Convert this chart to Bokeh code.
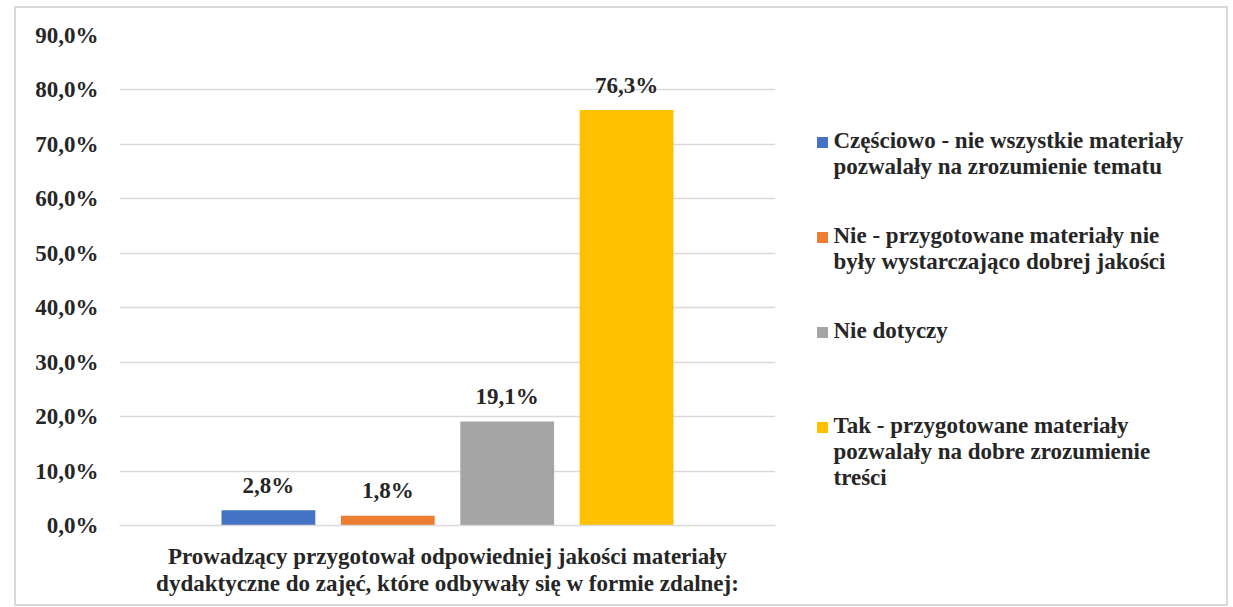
from bokeh.plotting import figure
from bokeh.models import FactorRange, Range1d, FixedTicker, ColumnDataSource, Row
from bokeh.transform import dodge
from bokeh.core.properties import value
from bokeh.embed import file_html
from bokeh.resources import INLINE

# ---- data ----
category = ["Prowadzący przygotował odpowiedniej jakości materiały\ndydaktyczne do zajęć, które odbywały się w formie zdalnej:"]
series = [
    "Częściowo - nie wszystkie materiały\npozwalały na zrozumienie tematu",
    "Nie - przygotowane materiały nie\nbyły wystarczająco dobrej jakości",
    "Nie dotyczy",
    "Tak - przygotowane materiały\npozwalały na dobre zrozumienie\ntreści",
]
values = [2.8, 1.8, 19.1, 76.3]
colors = ["#4472C4", "#ED7D31", "#A5A5A5", "#FFC000"]
tick_values = [0, 10, 20, 30, 40, 50, 60, 70, 80, 90]
tick_labels = ["0,0%", "10,0%", "20,0%", "30,0%", "40,0%", "50,0%", "60,0%", "70,0%", "80,0%", "90,0%"]
value_labels = [("%.1f%%" % v).replace(".", ",") for v in values]

FONT = "Liberation Serif"
FS = "23px"
TXT = "#262626"
GRID = "#D9D9D9"
H = 596
BT, BB = 27, 79
FRAME_H = H - BT - BB

# ---- main chart ----
p = figure(width=790, height=H, x_range=FactorRange(factors=category, range_padding=0),
           y_range=Range1d(0, 90), output_backend="svg", toolbar_location=None,
           min_border_left=103, min_border_right=31, min_border_top=BT, min_border_bottom=BB)
p.outline_line_color = None
p.xgrid.grid_line_color = None
p.ygrid.grid_line_color = GRID
p.ygrid.grid_line_width = 1.5

step = 0.182
bar_w = 0.143
for i, (s, v, c, lab) in enumerate(zip(series, values, colors, value_labels)):
    src = ColumnDataSource(dict(x=category, top=[v], label=[lab]))
    off = (i - (len(series) - 1) / 2) * step
    p.vbar(x=dodge("x", off, range=p.x_range), top="top", bottom=0, width=bar_w,
           source=src, fill_color=c, line_color=None)
    p.text(x=dodge("x", off, range=p.x_range), y="top", text="label", source=src,
           text_align="center", text_baseline="alphabetic", y_offset=-25,
           text_font=value(FONT), text_font_style="bold", text_font_size=FS,
           text_color=TXT)

p.yaxis.ticker = FixedTicker(ticks=tick_values)
p.yaxis.major_label_overrides = dict(zip(tick_values, tick_labels))
p.yaxis.axis_line_color = None
p.yaxis.major_tick_line_color = None
p.yaxis.minor_tick_line_color = None
p.yaxis.major_label_standoff = 15
p.yaxis.major_label_text_font = FONT
p.yaxis.major_label_text_font_style = "bold"
p.yaxis.major_label_text_font_size = FS
p.yaxis.major_label_text_color = TXT

p.xaxis.axis_line_color = GRID
p.xaxis.axis_line_width = 1.5
p.xaxis.major_tick_line_color = None
p.xaxis.minor_tick_line_color = None
p.xaxis.major_label_standoff = 12
p.xaxis.major_label_text_font = FONT
p.xaxis.major_label_text_font_style = "bold"
p.xaxis.major_label_text_font_size = FS
p.xaxis.major_label_text_color = TXT
p.xaxis.major_label_text_line_height = 1.1

# ---- legend panel (its frame is aligned with the chart frame by the Row) ----
n = len(series)
idx = list(range(n))
first = 107.0   # px from frame top to first entry
gap = 95.0      # px between entries
lg = figure(width=420, height=H, x_range=Range1d(0, 420),
            y_range=Range1d((FRAME_H - first) / gap, -first / gap),
            output_backend="svg", toolbar_location=None,
            min_border_left=0, min_border_right=0, min_border_top=BT, min_border_bottom=BB)
lg.axis.visible = False
lg.grid.visible = False
lg.outline_line_color = None
lsrc = ColumnDataSource(dict(y=idx, label=series, color=colors))
lg.rect(x=16, y="y", width=11, height=11, width_units="screen", height_units="screen",
        fill_color="color", line_color=None, source=lsrc)
lg.text(x=27, y="y", text="label", source=lsrc, text_align="left", text_baseline="top",
        y_offset=-15, text_font=value(FONT), text_font_style="bold", text_font_size=FS,
        text_color=TXT, text_line_height=1.05)

layout = Row(children=[p, lg], styles={"border": "2px solid #D9D9D9",
                                       "margin-left": "14px", "margin-top": "6px"})

open("out.html", "w").write(file_html(layout, INLINE))
